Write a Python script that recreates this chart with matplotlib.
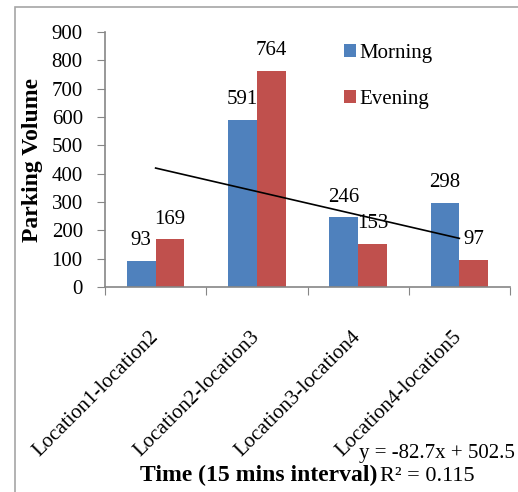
import numpy as np
import matplotlib
matplotlib.use("Agg")
import matplotlib.pyplot as plt
from matplotlib.patches import Rectangle

plt.rcParams["font.family"] = ["Liberation Serif", "DejaVu Serif"]

routes = ["Location1-location2", "Location2-location3",
          "Location3-location4", "Location4-location5"]
morning = [93, 591, 246, 298]
evening = [169, 764, 153, 97]

# linear trend of the evening counts (category index starting at 1)
slope = -82.7
intercept = 502.5
r_squared = 0.115

blue = "#4F81BD"
red = "#C0504D"
W, H = 518, 492

fig = plt.figure(figsize=(W / 100, H / 100), dpi=100)
fig.patches.append(Rectangle((15 / W, -0.1), 1.2, 1 - 7 / H + 0.1,
                             transform=fig.transFigure, fill=False,
                             edgecolor="#A6A6A6", linewidth=1.2))

ax = fig.add_axes([105 / W, 1 - 287 / H, 405 / W, 255 / H])

x = np.arange(len(routes))
w = 0.285
ax.bar(x - w / 2, morning, w, color=blue, label="Morning")
ax.bar(x + w / 2, evening, w, color=red, label="Evening")

for xi, v in zip(x - w / 2, morning):
    ax.annotate(str(v), (xi, v), xytext=(0, 11), textcoords="offset points",
                ha="center", va="baseline", fontsize=15)
for xi, v in zip(x + w / 2, evening):
    ax.annotate(str(v), (xi, v), xytext=(0, 11), textcoords="offset points",
                ha="center", va="baseline", fontsize=15)

tx = np.array([0, len(routes) - 1])
ax.plot(tx, slope * (tx + 1) + intercept, color="black", linewidth=1.2)

ax.set_xlim(-0.5, len(routes) - 0.5)
ax.set_ylim(0, 900)
ax.set_yticks(np.arange(0, 901, 100))
ax.set_xticks(np.arange(-0.5, len(routes)), labels=[])
ax.set_xticks(x, labels=routes, minor=True)
ax.tick_params(axis="x", which="minor", length=0, pad=34, labelsize=15)
ax.tick_params(axis="x", which="major", length=6, color="#868686", direction="out")
ax.tick_params(axis="y", length=6, color="#868686", direction="out",
               labelsize=15, pad=10)
for lab in ax.get_xticklabels(minor=True):
    lab.set_rotation(45)
    lab.set_ha("right")
    lab.set_va("center")
    lab.set_rotation_mode("anchor")

for side in ["top", "right"]:
    ax.spines[side].set_visible(False)
for side in ["left", "bottom"]:
    ax.spines[side].set_color("#868686")
    ax.spines[side].set_linewidth(1.2)

ax.legend(loc="upper left", bbox_to_anchor=(0.555, 1.01), frameon=False,
          fontsize=15, handlelength=0.55, handleheight=0.55,
          handletextpad=0.15, labelspacing=1.3, borderpad=0.2)

fig.text(33 / W, 1 - 160 / H, "Parking Volume", rotation=90, ha="center",
         va="center", fontsize=17, fontweight="bold")
fig.text(140 / W, 1 - 481 / H, "Time (15 mins interval)", ha="left",
         va="baseline", fontsize=17, fontweight="bold")
fig.text(380 / W, 1 - 481 / H, f"R² = {r_squared}", ha="left",
         va="baseline", fontsize=16)
fig.text(515 / W, 1 - 458 / H, f"y = {slope}x + {intercept}", ha="right",
         va="baseline", fontsize=15)

fig.savefig("out.png", dpi=100)
